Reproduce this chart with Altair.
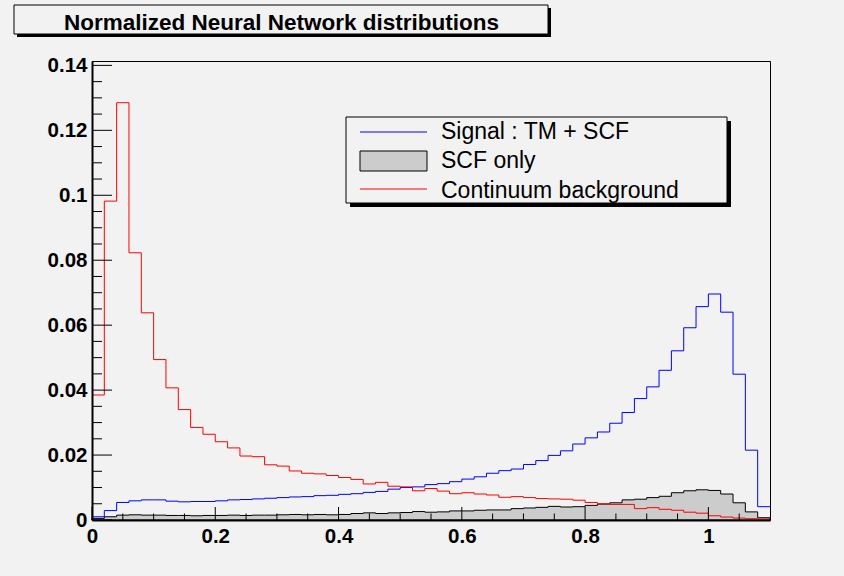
import altair as alt
import pandas as pd

# ---------------- data ----------------
bin_width = 0.02
x_min, x_max = 0.0, 1.1
y_max = 0.14135

signal_values = [
    0.0010, 0.0029, 0.0054, 0.0059, 0.0062, 0.0062, 0.0058, 0.0056, 0.0057, 0.0057,
    0.0059, 0.0062, 0.0063, 0.0065, 0.0067, 0.0069, 0.0071, 0.0072, 0.0075, 0.0076,
    0.0079, 0.0081, 0.0085, 0.0088, 0.0095, 0.0100, 0.0102, 0.0109, 0.0112, 0.0118,
    0.0126, 0.0133, 0.0144, 0.0152, 0.0157, 0.0171, 0.0183, 0.0199, 0.0213, 0.0234,
    0.0253, 0.0271, 0.0298, 0.0331, 0.0374, 0.0410, 0.0461, 0.0521, 0.0592, 0.0657,
    0.0696, 0.0640, 0.0449, 0.0215, 0.0041,
]
scf_values = [
    0.0005, 0.0010, 0.0015, 0.0016, 0.0015, 0.0015, 0.0014, 0.0014, 0.0013, 0.0014,
    0.0014, 0.0015, 0.0014, 0.0015, 0.0015, 0.0016, 0.0017, 0.0016, 0.0017, 0.0016,
    0.0017, 0.0020, 0.0022, 0.0020, 0.0022, 0.0023, 0.0026, 0.0024, 0.0025, 0.0028,
    0.0028, 0.0030, 0.0031, 0.0031, 0.0035, 0.0037, 0.0039, 0.0042, 0.0040, 0.0041,
    0.0045, 0.0049, 0.0053, 0.0062, 0.0064, 0.0069, 0.0073, 0.0084, 0.0090, 0.0093,
    0.0091, 0.0080, 0.0053, 0.0025, 0.0007,
]
continuum_values = [
    0.0385, 0.0982, 0.1285, 0.0823, 0.0638, 0.0494, 0.0407, 0.0340, 0.0285, 0.0264,
    0.0241, 0.0222, 0.0197, 0.0195, 0.0170, 0.0166, 0.0151, 0.0144, 0.0142, 0.0137,
    0.0131, 0.0125, 0.0111, 0.0116, 0.0104, 0.0102, 0.0090, 0.0097, 0.0089, 0.0081,
    0.0084, 0.0080, 0.0077, 0.0070, 0.0072, 0.0069, 0.0066, 0.0065, 0.0064, 0.0061,
    0.0054, 0.0050, 0.0048, 0.0048, 0.0035, 0.0038, 0.0033, 0.0030, 0.0024, 0.0021,
    0.0013, 0.0009, 0.0006, 0.0004, 0.0003,
]

x_major_ticks = [0, 0.2, 0.4, 0.6, 0.8, 1.0]
x_minor_ticks = [0.05, 0.1, 0.15, 0.25, 0.3, 0.35, 0.45, 0.5, 0.55, 0.65, 0.7, 0.75,
                 0.85, 0.9, 0.95, 1.05]
y_major_ticks = [0, 0.02, 0.04, 0.06, 0.08, 0.1, 0.12, 0.14]
y_minor_ticks = [0.005, 0.01, 0.015, 0.025, 0.03, 0.035, 0.045, 0.05, 0.055,
                 0.065, 0.07, 0.075, 0.085, 0.09, 0.095, 0.105, 0.11, 0.115,
                 0.125, 0.13, 0.135]

title_text = "Normalized Neural Network distributions"
legend_labels = ["Signal : TM + SCF", "SCF only", "Continuum background"]

# ---------------- helpers ----------------
W, H = 678, 459
BG = "#f2f2f2"
FONT = "Liberation Sans"


def step_table(values):
    rows = [{"x": round(i * bin_width, 4), "y": v} for i, v in enumerate(values)]
    rows.append({"x": x_max, "y": values[-1]})
    return pd.DataFrame(rows)


xs = alt.Scale(domain=[x_min, x_max], nice=False, zero=False)
ys = alt.Scale(domain=[0, y_max], nice=False)

x_axis = alt.Axis(values=x_major_ticks, format=".1~f", ticks=False, tickSize=0,
                  labelPadding=6, labelFont=FONT, labelFontWeight="bold",
                  labelFontSize=20.5, labelColor="black", domainColor="black",
                  domainWidth=2, grid=False, title=None, labelFlush=False,
                  labelOverlap=False, zindex=1)
y_axis = alt.Axis(values=y_major_ticks, format=".2~f", ticks=False, tickSize=0,
                  labelPadding=5, labelFont=FONT, labelFontWeight="bold",
                  labelFontSize=20.5, labelColor="black", domainColor="black",
                  domainWidth=2, grid=False, title=None, labelFlush=False,
                  labelOverlap=False, zindex=1)


def X(field):
    return alt.X(field, scale=xs, axis=x_axis, title=None)


def Y(field):
    return alt.Y(field, scale=ys, axis=y_axis, title=None)


one = alt.Data(values=[{"k": 0}])

signal = alt.Chart(step_table(signal_values)).mark_line(
    interpolate="step-after", color="#0000ff", strokeWidth=1
).encode(x=X("x:Q"), y=Y("y:Q"))

scf = alt.Chart(step_table(scf_values)).mark_area(
    interpolate="step-after", fill="#cccccc", stroke="black", strokeWidth=1
).encode(x=X("x:Q"), y=Y("y:Q"))

continuum = alt.Chart(step_table(continuum_values)).mark_line(
    interpolate="step-after", color="#ff0000", strokeWidth=1
).encode(x=X("x:Q"), y=Y("y:Q"))

# inward ticks
y_major = alt.Chart(pd.DataFrame({"x": [0.0] * len(y_major_ticks), "y": y_major_ticks})).mark_rule(
    color="black", strokeWidth=1).encode(y=Y("y:Q"), x=alt.value(0), x2=alt.value(20))
y_minor = alt.Chart(pd.DataFrame({"x": [0.0] * len(y_minor_ticks), "y": y_minor_ticks})).mark_rule(
    color="black", strokeWidth=1).encode(y=Y("y:Q"), x=alt.value(0), x2=alt.value(10))
x_major = alt.Chart(pd.DataFrame({"x": x_major_ticks})).mark_rule(
    color="black", strokeWidth=1).encode(x=X("x:Q"), y=alt.value(H), y2=alt.value(H - 13))
x_minor = alt.Chart(pd.DataFrame({"x": x_minor_ticks})).mark_rule(
    color="black", strokeWidth=1).encode(x=X("x:Q"), y=alt.value(H), y2=alt.value(H - 6.5))

# legend box
lx0, lx1, ly0, ly1 = 254, 635, 56, 142
leg_shadow = alt.Chart(one).mark_rect(fill="black").encode(
    x=alt.value(lx0 + 4), x2=alt.value(lx1 + 4), y=alt.value(ly0 + 4), y2=alt.value(ly1 + 4))
leg_box = alt.Chart(one).mark_rect(fill=BG, stroke="black", strokeWidth=1).encode(
    x=alt.value(lx0), x2=alt.value(lx1), y=alt.value(ly0), y2=alt.value(ly1))
leg_blue = alt.Chart(one).mark_rule(color="#0000ff", strokeWidth=1).encode(
    x=alt.value(268), x2=alt.value(335), y=alt.value(71))
leg_gray = alt.Chart(one).mark_rect(fill="#cccccc", stroke="black", strokeWidth=1).encode(
    x=alt.value(268), x2=alt.value(335), y=alt.value(90), y2=alt.value(110))
leg_red = alt.Chart(one).mark_rule(color="#ff0000", strokeWidth=1).encode(
    x=alt.value(268), x2=alt.value(335), y=alt.value(128))
leg_texts = [
    alt.Chart(one).mark_text(align="left", baseline="alphabetic", font=FONT,
                             fontSize=23, color="black").encode(
        x=alt.value(349), y=alt.value(yy), text=alt.value(lab))
    for lab, yy in zip(legend_labels, [77.5, 107, 136.5])
]

# title box
tx0, tx1, ty0, ty1 = -78, 456, -56, -27
title_shadow = alt.Chart(one).mark_rect(fill="black").encode(
    x=alt.value(tx0 + 3), x2=alt.value(tx1 + 3), y=alt.value(ty0 + 3), y2=alt.value(ty1 + 3))
title_box = alt.Chart(one).mark_rect(fill=BG, stroke="black", strokeWidth=1).encode(
    x=alt.value(tx0), x2=alt.value(tx1), y=alt.value(ty0), y2=alt.value(ty1))
title_mark = alt.Chart(one).mark_text(align="center", baseline="alphabetic", font=FONT,
                                      fontSize=22.5, fontWeight="bold", color="black").encode(
    x=alt.value(189.5), y=alt.value(-31.5), text=alt.value(title_text))

chart = alt.layer(
    signal, scf, continuum,
    y_major, y_minor, x_major, x_minor,
    leg_shadow, leg_box, leg_blue, leg_gray, leg_red, *leg_texts,
    title_shadow, title_box, title_mark,
).properties(
    width=W, height=H,
    autosize=alt.AutoSizeParams(type="none"),
    padding={"left": 92, "top": 61, "right": 74, "bottom": 56},
    background=BG,
).configure_view(
    stroke="black", strokeWidth=1, fill=BG,
)

chart.save("out.html", embed_options={"renderer": "svg", "actions": False})
